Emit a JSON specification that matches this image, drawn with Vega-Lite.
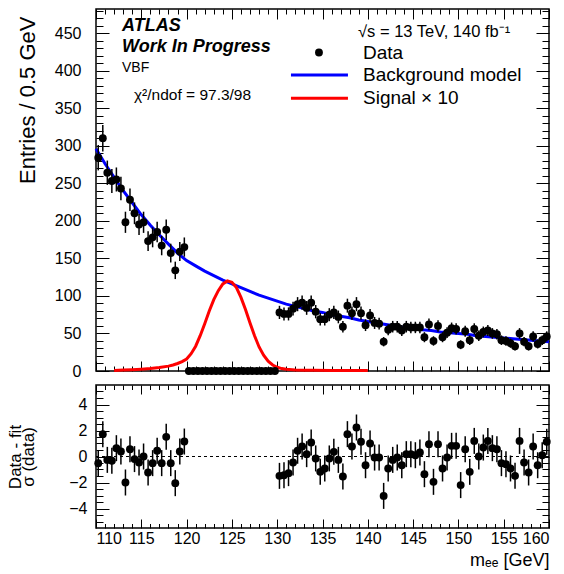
{
 "$schema": "https://vega.github.io/schema/vega-lite/v6.json",
 "background": "white",
 "padding": {"left": 5, "top": 7, "right": 5, "bottom": 5},
 "spacing": 14,
 "bounds": "flush",
 "datasets": {
  "obs": [
   {"m":110.25,"n":284,"e":16.9,"r":-0.51,"u":1},
   {"m":110.75,"n":310,"e":17.6,"r":1.72,"u":1},
   {"m":111.25,"n":264,"e":16.2,"r":-0.26,"u":1},
   {"m":111.75,"n":253,"e":15.9,"r":-0.33,"u":1},
   {"m":112.25,"n":255,"e":16.0,"r":0.64,"u":1},
   {"m":112.75,"n":243,"e":15.6,"r":0.38,"u":1},
   {"m":113.25,"n":198,"e":14.1,"r":-2.0,"u":1},
   {"m":113.75,"n":228,"e":15.1,"r":0.56,"u":1},
   {"m":114.25,"n":210,"e":14.5,"r":-0.2,"u":1},
   {"m":114.75,"n":195,"e":14.0,"r":-0.46,"u":1},
   {"m":115.25,"n":198,"e":14.1,"r":0.0,"u":1},
   {"m":115.75,"n":173,"e":13.2,"r":-1.23,"u":1},
   {"m":116.25,"n":178,"e":13.3,"r":-0.51,"u":1},
   {"m":116.75,"n":185,"e":13.6,"r":0.44,"u":1},
   {"m":117.25,"n":167,"e":12.9,"r":-0.51,"u":1},
   {"m":117.75,"n":188,"e":13.7,"r":1.51,"u":1},
   {"m":118.25,"n":157,"e":12.5,"r":-0.51,"u":1},
   {"m":118.75,"n":134,"e":11.6,"r":-2.05,"u":1},
   {"m":119.25,"n":159,"e":12.6,"r":0.38,"u":1},
   {"m":119.75,"n":165,"e":12.8,"r":1.15,"u":1},
   {"m":120.25,"n":0,"e":0},{"m":120.75,"n":0,"e":0},{"m":121.25,"n":0,"e":0},{"m":121.75,"n":0,"e":0},
   {"m":122.25,"n":0,"e":0},{"m":122.75,"n":0,"e":0},{"m":123.25,"n":0,"e":0},{"m":123.75,"n":0,"e":0},
   {"m":124.25,"n":0,"e":0},{"m":124.75,"n":0,"e":0},{"m":125.25,"n":0,"e":0},{"m":125.75,"n":0,"e":0},
   {"m":126.25,"n":0,"e":0},{"m":126.75,"n":0,"e":0},{"m":127.25,"n":0,"e":0},{"m":127.75,"n":0,"e":0},
   {"m":128.25,"n":0,"e":0},{"m":128.75,"n":0,"e":0},{"m":129.25,"n":0,"e":0},{"m":129.75,"n":0,"e":0},
   {"m":130.25,"n":78,"e":8.8,"r":-1.49,"u":1},
   {"m":130.75,"n":76,"e":8.7,"r":-1.44,"u":1},
   {"m":131.25,"n":76,"e":8.7,"r":-1.28,"u":1},
   {"m":131.75,"n":83,"e":9.1,"r":-0.46,"u":1},
   {"m":132.25,"n":89,"e":9.4,"r":0.44,"u":1},
   {"m":132.75,"n":91,"e":9.5,"r":0.77,"u":1},
   {"m":133.25,"n":84,"e":9.2,"r":0.18,"u":1},
   {"m":133.75,"n":91,"e":9.5,"r":1.08,"u":1},
   {"m":134.25,"n":79,"e":8.9,"r":-0.15,"u":1},
   {"m":134.75,"n":69,"e":8.3,"r":-1.18,"u":1},
   {"m":135.25,"n":69,"e":8.3,"r":-0.92,"u":1},
   {"m":135.75,"n":75,"e":8.7,"r":-0.15,"u":1},
   {"m":136.25,"n":78,"e":8.8,"r":0.36,"u":1},
   {"m":136.75,"n":72,"e":8.5,"r":-0.26,"u":1},
   {"m":137.25,"n":59,"e":7.7,"r":-1.54,"u":1},
   {"m":137.75,"n":87,"e":9.3,"r":1.72,"u":1},
   {"m":138.25,"n":77,"e":8.8,"r":0.77,"u":1},
   {"m":138.75,"n":89,"e":9.4,"r":2.23,"u":1},
   {"m":139.25,"n":77,"e":8.8,"r":1.13,"u":1},
   {"m":139.75,"n":61,"e":7.8,"r":-0.67,"u":1},
   {"m":140.25,"n":74,"e":8.6,"r":1.0,"u":1},
   {"m":140.75,"n":64,"e":8.0,"r":-0.08,"u":1},
   {"m":141.25,"n":63,"e":7.9,"r":-0.08,"u":1},
   {"m":141.75,"n":39,"e":6.2,"r":-3.03,"u":1},
   {"m":142.25,"n":55,"e":7.4,"r":-0.92,"u":1},
   {"m":142.75,"n":59,"e":7.7,"r":-0.26,"u":1},
   {"m":143.25,"n":59,"e":7.7,"r":-0.08,"u":1},
   {"m":143.75,"n":54,"e":7.3,"r":-0.67,"u":1},
   {"m":144.25,"n":59,"e":7.7,"r":0.18,"u":1},
   {"m":144.75,"n":58,"e":7.6,"r":0.18,"u":1},
   {"m":145.25,"n":58,"e":7.6,"r":0.1,"u":1},
   {"m":145.75,"n":58,"e":7.6,"r":0.31,"u":1},
   {"m":146.25,"n":45,"e":6.7,"r":-1.36,"u":1},
   {"m":146.75,"n":62,"e":7.9,"r":0.95,"u":1},
   {"m":147.25,"n":40,"e":6.3,"r":-1.95,"u":1},
   {"m":147.75,"n":60,"e":7.7,"r":0.95,"u":1},
   {"m":148.25,"n":45,"e":6.7,"r":-0.92,"u":1},
   {"m":148.75,"n":51,"e":7.1,"r":-0.08,"u":1},
   {"m":149.25,"n":57,"e":7.5,"r":0.82,"u":1},
   {"m":149.75,"n":56,"e":7.5,"r":0.82,"u":1},
   {"m":150.25,"n":35,"e":5.9,"r":-2.2,"u":1},
   {"m":150.75,"n":53,"e":7.3,"r":0.56,"u":1},
   {"m":151.25,"n":41,"e":6.4,"r":-1.18,"u":1},
   {"m":151.75,"n":56,"e":7.5,"r":1.2,"u":1},
   {"m":152.25,"n":47,"e":6.9,"r":0.0,"u":1},
   {"m":152.75,"n":52,"e":7.2,"r":0.69,"u":1},
   {"m":153.25,"n":54,"e":7.3,"r":1.2,"u":1},
   {"m":153.75,"n":50,"e":7.1,"r":0.64,"u":1},
   {"m":154.25,"n":49,"e":7.0,"r":0.56,"u":1},
   {"m":154.75,"n":41,"e":6.4,"r":-0.51,"u":1},
   {"m":155.25,"n":40,"e":6.3,"r":-0.59,"u":1},
   {"m":155.75,"n":37,"e":6.1,"r":-0.92,"u":1},
   {"m":156.25,"n":33,"e":5.7,"r":-1.49,"u":1},
   {"m":156.75,"n":50,"e":7.1,"r":1.2,"u":1},
   {"m":157.25,"n":39,"e":6.2,"r":-0.46,"u":1},
   {"m":157.75,"n":33,"e":5.7,"r":-1.23,"u":1},
   {"m":158.25,"n":46,"e":6.8,"r":0.77,"u":1},
   {"m":158.75,"n":36,"e":6.0,"r":-0.67,"u":1},
   {"m":159.25,"n":41,"e":6.4,"r":0.1,"u":1},
   {"m":159.75,"n":46,"e":6.8,"r":1.13,"u":1}
  ],
  "bkg": [
   {"m":110,"b":296},{"m":111,"b":276},{"m":112,"b":258},{"m":113,"b":240},{"m":114,"b":224},
   {"m":115,"b":208},{"m":116,"b":194},{"m":117,"b":181},{"m":118,"b":169},{"m":119,"b":157},
   {"m":120,"b":147},{"m":121,"b":140},{"m":122,"b":133},{"m":123,"b":127},{"m":124,"b":121},
   {"m":125,"b":116},{"m":126,"b":111},{"m":127,"b":106},{"m":128,"b":101},{"m":129,"b":97},
   {"m":130,"b":93},{"m":131,"b":89},{"m":132,"b":86},{"m":133,"b":83},{"m":134,"b":80},
   {"m":135,"b":78},{"m":136,"b":75},{"m":137,"b":73},{"m":138,"b":71},{"m":139,"b":68},
   {"m":140,"b":66},{"m":141,"b":64},{"m":142,"b":62},{"m":143,"b":60},{"m":144,"b":58},
   {"m":145,"b":57},{"m":146,"b":55},{"m":147,"b":54},{"m":148,"b":52},{"m":149,"b":51},
   {"m":150,"b":50},{"m":151,"b":49},{"m":152,"b":47},{"m":153,"b":46},{"m":154,"b":45},
   {"m":155,"b":44},{"m":156,"b":43},{"m":157,"b":42},{"m":158,"b":41},{"m":159,"b":40},
   {"m":160,"b":39}
  ],
  "sig": [
   {"m":112,"s":0.8},{"m":113,"s":1.2},{"m":114,"s":1.7},{"m":115,"s":2.4},{"m":116,"s":3.3},
   {"m":117,"s":4.6},{"m":118,"s":6.5},{"m":118.5,"s":8},{"m":119,"s":10},{"m":119.5,"s":12.5},
   {"m":120,"s":16},{"m":120.5,"s":23},{"m":121,"s":33},{"m":121.5,"s":47},{"m":122,"s":63},
   {"m":122.5,"s":80},{"m":123,"s":95},{"m":123.5,"s":107},{"m":124,"s":116},{"m":124.5,"s":120},
   {"m":125,"s":118},{"m":125.5,"s":111},{"m":126,"s":98},{"m":126.5,"s":82},{"m":127,"s":64},
   {"m":127.5,"s":47},{"m":128,"s":32},{"m":128.5,"s":21},{"m":129,"s":13},{"m":129.5,"s":8},
   {"m":130,"s":5},{"m":130.5,"s":3.2},{"m":131,"s":2.2},{"m":132,"s":1.4},{"m":133,"s":1.1},
   {"m":134,"s":0.9},{"m":136,"s":0.7},{"m":138,"s":0.6},{"m":140,"s":0.5}
  ]
 },
 "vconcat": [
  {
   "width": 453,
   "height": 362,
   "resolve": {"axis": {"x": "independent", "y": "independent"}},
   "layer": [
    {
     "data": {"name": "bkg"},
     "mark": {"type": "line", "color": "#0000ff", "strokeWidth": 3},
     "encoding": {
      "x": {"field": "m", "type": "quantitative", "scale": {"domain": [110, 160], "nice": false, "zero": false},
            "axis": {"orient": "bottom", "values": [110,115,120,125,130,135,140,145,150,155,160], "labels": false, "tickSize": -10, "title": null}},
      "y": {"field": "b", "type": "quantitative", "scale": {"domain": [0, 482], "nice": false},
            "axis": {"orient": "left", "values": [0,50,100,150,200,250,300,350,400,450], "tickSize": -13, "labelPadding": 28,
                     "title": "Entries / 0.5 GeV", "titleX": -69, "titleY": 7, "titleAngle": -90, "titleAlign": "right", "titleBaseline": "middle", "titleFontSize": 22}}
     }
    },
    {
     "data": {"name": "sig"},
     "mark": {"type": "line", "color": "#ff0000", "strokeWidth": 3},
     "encoding": {
      "x": {"field": "m", "type": "quantitative", "scale": {"domain": [110, 160], "nice": false, "zero": false},
            "axis": {"orient": "top", "values": [110,115,120,125,130,135,140,145,150,155,160], "labels": false, "tickSize": -10, "title": null}},
      "y": {"field": "s", "type": "quantitative", "scale": {"domain": [0, 482], "nice": false},
            "axis": {"orient": "right", "values": [0,50,100,150,200,250,300,350,400,450], "labels": false, "tickSize": -13, "title": null}}
     }
    },
    {
     "data": {"name": "obs"},
     "mark": {"type": "errorbar", "color": "black", "thickness": 1.5, "ticks": false},
     "encoding": {
      "x": {"field": "m", "type": "quantitative", "scale": {"domain": [110, 160], "nice": false, "zero": false},
            "axis": {"orient": "bottom", "values": [111,112,113,114,116,117,118,119,121,122,123,124,126,127,128,129,131,132,133,134,136,137,138,139,141,142,143,144,146,147,148,149,151,152,153,154,156,157,158,159], "labels": false, "tickSize": -5, "title": null}},
      "y": {"field": "n", "type": "quantitative", "scale": {"domain": [0, 482], "nice": false},
            "axis": {"orient": "left", "values": [10,20,30,40,60,70,80,90,110,120,130,140,160,170,180,190,210,220,230,240,260,270,280,290,310,320,330,340,360,370,380,390,410,420,430,440,460,470,480], "labels": false, "tickSize": -7, "title": null}},
      "yError": {"field": "e"}
     }
    },
    {
     "data": {"name": "obs"},
     "mark": {"type": "point", "filled": true, "color": "black", "opacity": 1, "size": 62},
     "encoding": {
      "x": {"field": "m", "type": "quantitative", "scale": {"domain": [110, 160], "nice": false, "zero": false},
            "axis": {"orient": "top", "values": [111,112,113,114,116,117,118,119,121,122,123,124,126,127,128,129,131,132,133,134,136,137,138,139,141,142,143,144,146,147,148,149,151,152,153,154,156,157,158,159], "labels": false, "tickSize": -5, "title": null}},
      "y": {"field": "n", "type": "quantitative", "scale": {"domain": [0, 482], "nice": false},
            "axis": {"orient": "right", "values": [10,20,30,40,60,70,80,90,110,120,130,140,160,170,180,190,210,220,230,240,260,270,280,290,310,320,330,340,360,370,380,390,410,420,430,440,460,470,480], "labels": false, "tickSize": -7, "title": null}}
     }
    },
    {
     "data": {"values": [{}]},
     "mark": {"type": "text", "text": "ATLAS", "align": "left", "baseline": "middle", "fontSize": 18, "fontWeight": "bold", "fontStyle": "italic", "color": "black"},
     "encoding": {"x": {"datum": 112.87, "type": "quantitative", "axis": null}, "y": {"datum": 460, "type": "quantitative", "axis": null}}
    },
    {
     "data": {"values": [{}]},
     "mark": {"type": "text", "text": "Work In Progress", "align": "left", "baseline": "middle", "fontSize": 18, "fontWeight": "bold", "fontStyle": "italic", "color": "black"},
     "encoding": {"x": {"datum": 112.87, "type": "quantitative", "axis": null}, "y": {"datum": 432, "type": "quantitative", "axis": null}}
    },
    {
     "data": {"values": [{}]},
     "mark": {"type": "text", "text": "VBF", "align": "left", "baseline": "middle", "fontSize": 14, "color": "black"},
     "encoding": {"x": {"datum": 112.87, "type": "quantitative", "axis": null}, "y": {"datum": 404, "type": "quantitative", "axis": null}}
    },
    {
     "data": {"values": [{}]},
     "mark": {"type": "text", "text": "χ²/ndof = 97.3/98", "align": "left", "baseline": "middle", "fontSize": 15.5, "color": "black"},
     "encoding": {"x": {"datum": 114.19, "type": "quantitative", "axis": null}, "y": {"datum": 368, "type": "quantitative", "axis": null}}
    },
    {
     "data": {"values": [{}]},
     "mark": {"type": "text", "text": "√s = 13 TeV, 140 fb⁻¹", "align": "left", "baseline": "middle", "fontSize": 16.5, "color": "black"},
     "encoding": {"x": {"datum": 138.92, "type": "quantitative", "axis": null}, "y": {"datum": 451, "type": "quantitative", "axis": null}}
    },
    {
     "data": {"values": [{}]},
     "mark": {"type": "point", "filled": true, "color": "black", "opacity": 1, "size": 62},
     "encoding": {"x": {"datum": 134.61, "type": "quantitative", "axis": null}, "y": {"datum": 424, "type": "quantitative", "axis": null}}
    },
    {
     "data": {"values": [{}]},
     "mark": {"type": "text", "text": "Data", "align": "left", "baseline": "middle", "fontSize": 19, "color": "black"},
     "encoding": {"x": {"datum": 139.47, "type": "quantitative", "axis": null}, "y": {"datum": 424, "type": "quantitative", "axis": null}}
    },
    {
     "data": {"values": [{}]},
     "mark": {"type": "rule", "color": "#0000ff", "strokeWidth": 3},
     "encoding": {"x": {"datum": 131.52, "type": "quantitative", "axis": null}, "x2": {"datum": 137.81}, "y": {"datum": 394, "type": "quantitative", "axis": null}}
    },
    {
     "data": {"values": [{}]},
     "mark": {"type": "text", "text": "Background model", "align": "left", "baseline": "middle", "fontSize": 19, "color": "black"},
     "encoding": {"x": {"datum": 139.47, "type": "quantitative", "axis": null}, "y": {"datum": 394, "type": "quantitative", "axis": null}}
    },
    {
     "data": {"values": [{}]},
     "mark": {"type": "rule", "color": "#ff0000", "strokeWidth": 3},
     "encoding": {"x": {"datum": 131.52, "type": "quantitative", "axis": null}, "x2": {"datum": 137.81}, "y": {"datum": 363, "type": "quantitative", "axis": null}}
    },
    {
     "data": {"values": [{}]},
     "mark": {"type": "text", "text": "Signal × 10", "align": "left", "baseline": "middle", "fontSize": 19, "color": "black"},
     "encoding": {"x": {"datum": 139.47, "type": "quantitative", "axis": null}, "y": {"datum": 363, "type": "quantitative", "axis": null}}
    }
   ]
  },
  {
   "width": 453,
   "height": 143,
   "resolve": {"axis": {"x": "independent", "y": "independent"}},
   "layer": [
    {
     "data": {"values": [{}]},
     "mark": {"type": "rule", "color": "black", "strokeWidth": 1, "strokeDash": [3, 3]},
     "encoding": {"y": {"datum": 0, "type": "quantitative", "scale": {"domain": [-5.5, 5.5], "nice": false}, "axis": null}}
    },
    {
     "data": {"name": "obs"},
     "transform": [{"filter": "isValid(datum.r)"}],
     "mark": {"type": "errorbar", "color": "black", "thickness": 1.5, "ticks": false},
     "encoding": {
      "x": {"field": "m", "type": "quantitative", "scale": {"domain": [110, 160], "nice": false, "zero": false},
            "axis": {"orient": "bottom", "values": [110,115,120,125,130,135,140,145,150,155,160], "tickSize": -9, "labelPadding": 11,
                     "title": "mₑₑ [GeV]", "titleX": 453, "titleY": 32, "titleAlign": "right", "titleBaseline": "middle", "titleFontSize": 18}},
      "y": {"field": "r", "type": "quantitative", "scale": {"domain": [-5.5, 5.5], "nice": false},
            "axis": {"orient": "left", "values": [-4,-2,0,2,4], "tickSize": -13, "labelPadding": 22,
                     "title": ["Data - fit", "σ (data)"], "titleX": -81, "titleY": 71.5, "titleAngle": -90, "titleAlign": "center", "titleBaseline": "middle", "titleFontSize": 17, "titleLineHeight": 13}},
      "yError": {"field": "u"}
     }
    },
    {
     "data": {"name": "obs"},
     "transform": [{"filter": "isValid(datum.r)"}],
     "mark": {"type": "point", "filled": true, "color": "black", "opacity": 1, "size": 62},
     "encoding": {
      "x": {"field": "m", "type": "quantitative", "scale": {"domain": [110, 160], "nice": false, "zero": false},
            "axis": {"orient": "top", "values": [110,115,120,125,130,135,140,145,150,155,160], "labels": false, "tickSize": -9, "title": null}},
      "y": {"field": "r", "type": "quantitative", "scale": {"domain": [-5.5, 5.5], "nice": false},
            "axis": {"orient": "right", "values": [-4,-2,0,2,4], "labels": false, "tickSize": -13, "title": null}}
     }
    },
    {
     "data": {"name": "obs"},
     "transform": [{"filter": "isValid(datum.r)"}],
     "mark": {"type": "point", "filled": true, "color": "black", "opacity": 0, "size": 62},
     "encoding": {
      "x": {"field": "m", "type": "quantitative", "scale": {"domain": [110, 160], "nice": false, "zero": false},
            "axis": {"orient": "bottom", "values": [111,112,113,114,116,117,118,119,121,122,123,124,126,127,128,129,131,132,133,134,136,137,138,139,141,142,143,144,146,147,148,149,151,152,153,154,156,157,158,159], "labels": false, "tickSize": -4.5, "title": null}},
      "y": {"field": "r", "type": "quantitative", "scale": {"domain": [-5.5, 5.5], "nice": false},
            "axis": {"orient": "left", "values": [-5,-4.5,-3.5,-3,-2.5,-1.5,-1,-0.5,0.5,1,1.5,2.5,3,3.5,4.5,5], "labels": false, "tickSize": -7, "title": null}}
     }
    },
    {
     "data": {"name": "obs"},
     "transform": [{"filter": "isValid(datum.r)"}],
     "mark": {"type": "point", "filled": true, "color": "black", "opacity": 0, "size": 62},
     "encoding": {
      "x": {"field": "m", "type": "quantitative", "scale": {"domain": [110, 160], "nice": false, "zero": false},
            "axis": {"orient": "top", "values": [111,112,113,114,116,117,118,119,121,122,123,124,126,127,128,129,131,132,133,134,136,137,138,139,141,142,143,144,146,147,148,149,151,152,153,154,156,157,158,159], "labels": false, "tickSize": -4.5, "title": null}},
      "y": {"field": "r", "type": "quantitative", "scale": {"domain": [-5.5, 5.5], "nice": false},
            "axis": {"orient": "right", "values": [-5,-4.5,-3.5,-3,-2.5,-1.5,-1,-0.5,0.5,1,1.5,2.5,3,3.5,4.5,5], "labels": false, "tickSize": -7, "title": null}}
     }
    }
   ]
  }
 ],
 "config": {
  "font": "Liberation Sans",
  "view": {"stroke": "black", "strokeWidth": 1.5},
  "axis": {"domain": false, "grid": false, "tickColor": "black", "tickWidth": 1, "labelColor": "black", "labelFontSize": 16, "labelFont": "Liberation Sans", "titleFont": "Liberation Sans", "titleColor": "black", "titleFontWeight": "normal"},
  "text": {"font": "Liberation Sans"}
 }
}
